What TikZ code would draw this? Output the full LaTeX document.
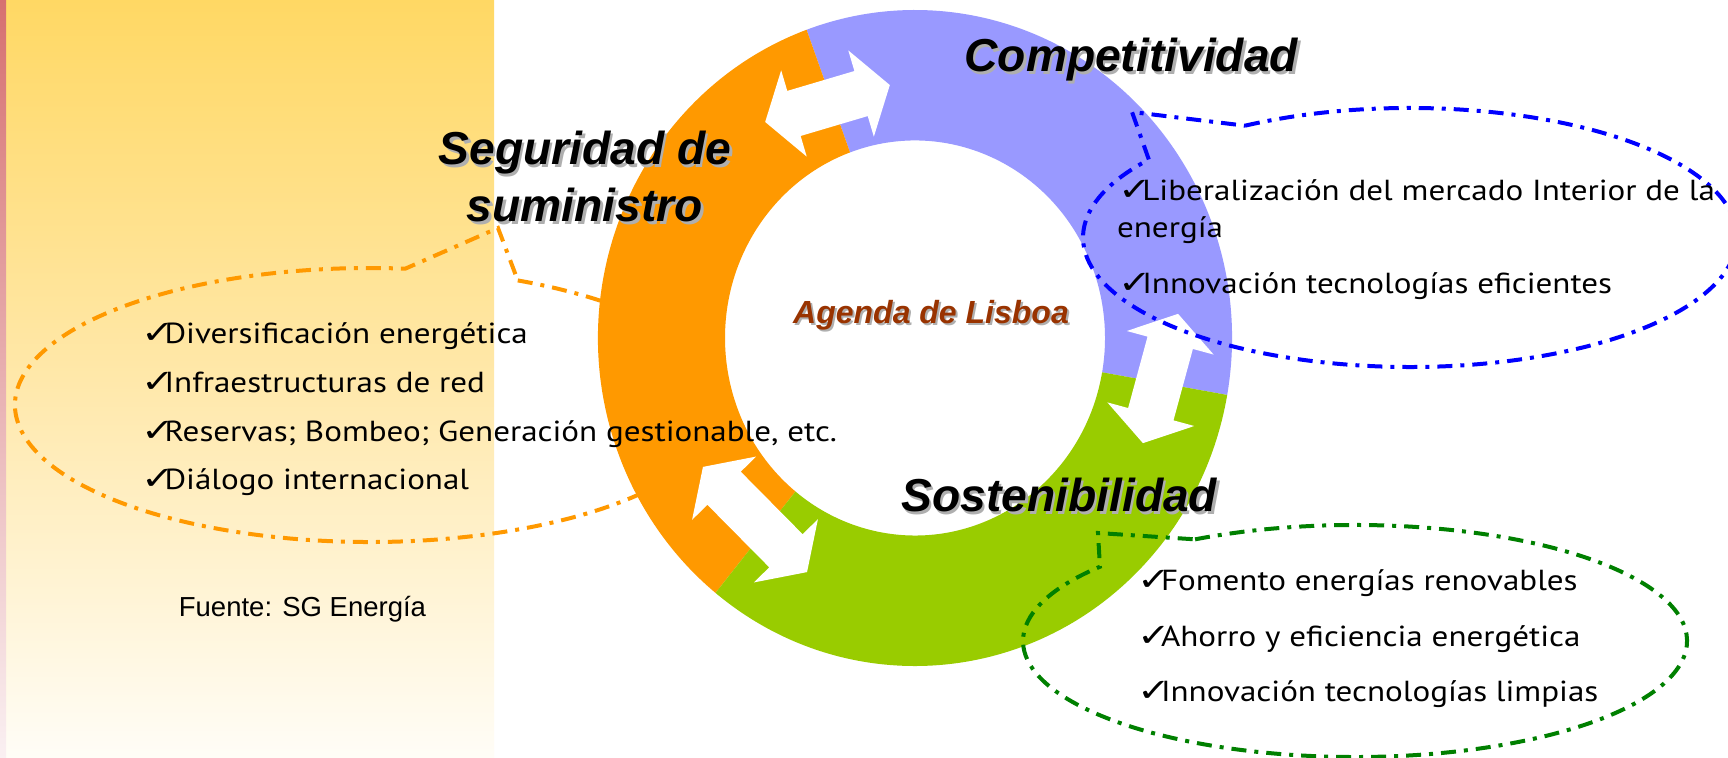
\documentclass[tikz,border=0pt]{standalone}
\usepackage{graphicx}
\usepackage{fontspec}
\setmainfont{Liberation Sans}
\newfontfamily\headfont{Liberation Sans}
\newfontfamily\listfont[FakeStretch=1.14]{PT Sans}
\newfontfamily\chkfont{DejaVu Sans}
\usetikzlibrary{calc}
\definecolor{ringorange}{RGB}{255,153,0}
\definecolor{ringblue}{RGB}{153,153,255}
\definecolor{ringgreen}{RGB}{153,204,0}
\definecolor{dashorange}{RGB}{255,153,0}
\definecolor{dashblue}{RGB}{0,0,255}
\definecolor{dashgreen}{RGB}{0,128,0}
\definecolor{agendabrown}{RGB}{153,51,0}
\definecolor{shadowgray}{RGB}{175,175,175}
\definecolor{paneltop}{RGB}{255,216,100}
\definecolor{panelmid}{RGB}{255,232,170}
\definecolor{panelbot}{RGB}{255,253,247}
\definecolor{striptop}{RGB}{214,112,112}
\definecolor{stripbot}{RGB}{250,240,242}
\newcommand\mychk{\makebox[11.8pt][l]{\scalebox{1.25}[1]{\chkfont\fontsize{16pt}{16pt}\selectfont ✓}}}
\newcommand\dblarrow[3]{%
  \fill[white,shift={(#1)},rotate=#2] (-#3,0) -- (-#3+30,45) -- (-#3+30,23.5) -- (#3-30,23.5) -- (#3-30,45) -- (#3,0) -- (#3-30,-45) -- (#3-30,-23.5) -- (-#3+30,-23.5) -- (-#3+30,-45) -- cycle;}
\begin{document}
\begin{tikzpicture}[x=0.5pt,y=-0.5pt,
  head/.style={font=\headfont\bfseries\itshape\fontsize{23.1pt}{27pt}\selectfont, inner sep=0pt},
  headshadow/.style={head, text=shadowgray},
  agenda/.style={font=\headfont\bfseries\itshape\fontsize{16pt}{19pt}\selectfont, inner sep=0pt},
  item/.style={font=\listfont\fontsize{14.5pt}{17pt}\selectfont, inner sep=0pt, anchor=base west},
  callout/.style={line width=2pt, dash pattern=on 7.5pt off 4pt on 2pt off 4pt},
  source/.style={font=\fontsize{13.75pt}{16pt}\selectfont, inner sep=0pt, anchor=base west}]
\useasboundingbox (0,0) rectangle (1728,758);
\fill[white] (0,0) rectangle (1728,758);
% left panel
\shade[top color=paneltop, bottom color=panelbot, middle color=panelmid] (0,0) rectangle (494,758);
\shade[top color=striptop, bottom color=stripbot] (0,0) rectangle (6,758);
% orange callout (behind ring)
\coordinate (oc) at (370,405);
\coordinate (otip) at (498,228);
\draw[callout, dashorange] ($(oc)+(-65.4:355 and 137)$) arc[start angle=-65.4, end angle=275.7, x radius=355, y radius=137] -- (otip) -- cycle;
% ring
\coordinate (c) at (915,338);
\fill[ringblue] ($(c)+(10:317 and 328)$) arc[start angle=10, end angle=-110, x radius=317, y radius=328] -- ($(c)+(-110:190 and 197.5)$) arc[start angle=-110, end angle=10, x radius=190, y radius=197.5] -- cycle;
\fill[ringorange] ($(c)+(-110:317 and 328)$) arc[start angle=-110, end angle=-231, x radius=317, y radius=328] -- ($(c)+(-231:190 and 197.5)$) arc[start angle=-231, end angle=-110, x radius=190, y radius=197.5] -- cycle;
\fill[ringgreen] ($(c)+(-231:317 and 328)$) arc[start angle=-231, end angle=-350, x radius=317, y radius=328] -- ($(c)+(-350:190 and 197.5)$) arc[start angle=-350, end angle=-231, x radius=190, y radius=197.5] -- cycle;
% white double arrows
\dblarrow{827.5,103.5}{16.5}{65}
\dblarrow{755,519.5}{-45.3}{74}
\dblarrow{1160.5,378.5}{-105.2}{67}
% blue callout
\coordinate (bc) at (1410,237.5);
\coordinate (btip) at (1132,112);
\draw[callout, dashblue] ($(bc)+(-120.3:327 and 129.5)$) arc[start angle=-120.3, end angle=217, x radius=327, y radius=129.5] -- (btip) -- cycle;
% green callout
\coordinate (gc) at (1355,641);
\coordinate (gtip) at (1098,533);
\draw[callout, dashgreen] ($(gc)+(-118.8:332 and 116)$) arc[start angle=-118.8, end angle=219.8, x radius=332, y radius=116] -- (gtip) -- cycle;
% headings
\node[headshadow, anchor=base west] (compS) at (966.5,74.2) {Competitividad};
\node[head, anchor=base west] (comp) at (964,71.7) {Competitividad};
\node[headshadow, anchor=base] (seg1S) at (587.5,167.5) {Seguridad de};
\node[head, anchor=base] (seg1) at (585,165) {Seguridad de};
\node[headshadow, anchor=base] (seg2S) at (587.5,224.2) {suministro};
\node[head, anchor=base] (seg2) at (585,221.7) {suministro};
\node[headshadow, anchor=base west] (sosS) at (903.5,514.2) {Sostenibilidad};
\node[head, anchor=base west] (sos) at (901,511.7) {Sostenibilidad};
\node[agenda, text=shadowgray, anchor=base] (agS) at (933,325.5) {Agenda de Lisboa};
\node[agenda, text=agendabrown, anchor=base] (ag) at (931,323.5) {Agenda de Lisboa};
% lists
\node[item] (d1) at (140.6,344) {\mychk Diversificación energética};
\node[item] (d2) at (140.6,392.7) {\mychk Infraestructuras de red};
\node[item] (d3) at (140.6,441.7) {\mychk Reservas; Bombeo; Generación gestionable, etc.};
\node[item] (d4) at (140.6,489.3) {\mychk Diálogo internacional};
\node[item] (b1) at (1118.3,200.8) {\mychk Liberalización del mercado Interior de la};
\node[item] (b1b) at (1116.7,237.5) {energía};
\node[item] (b2) at (1118.3,294) {\mychk Innovación tecnologías eficientes};
\node[item] (g1) at (1137,590) {\mychk Fomento energías renovables};
\node[item] (g2) at (1137,646.7) {\mychk Ahorro y eficiencia energética};
\node[item] (g3) at (1137,701.7) {\mychk Innovación tecnologías limpias};
\node[source] (src) at (178.5,616.7) {Fuente: SG Energía};
\end{tikzpicture}
\end{document}
